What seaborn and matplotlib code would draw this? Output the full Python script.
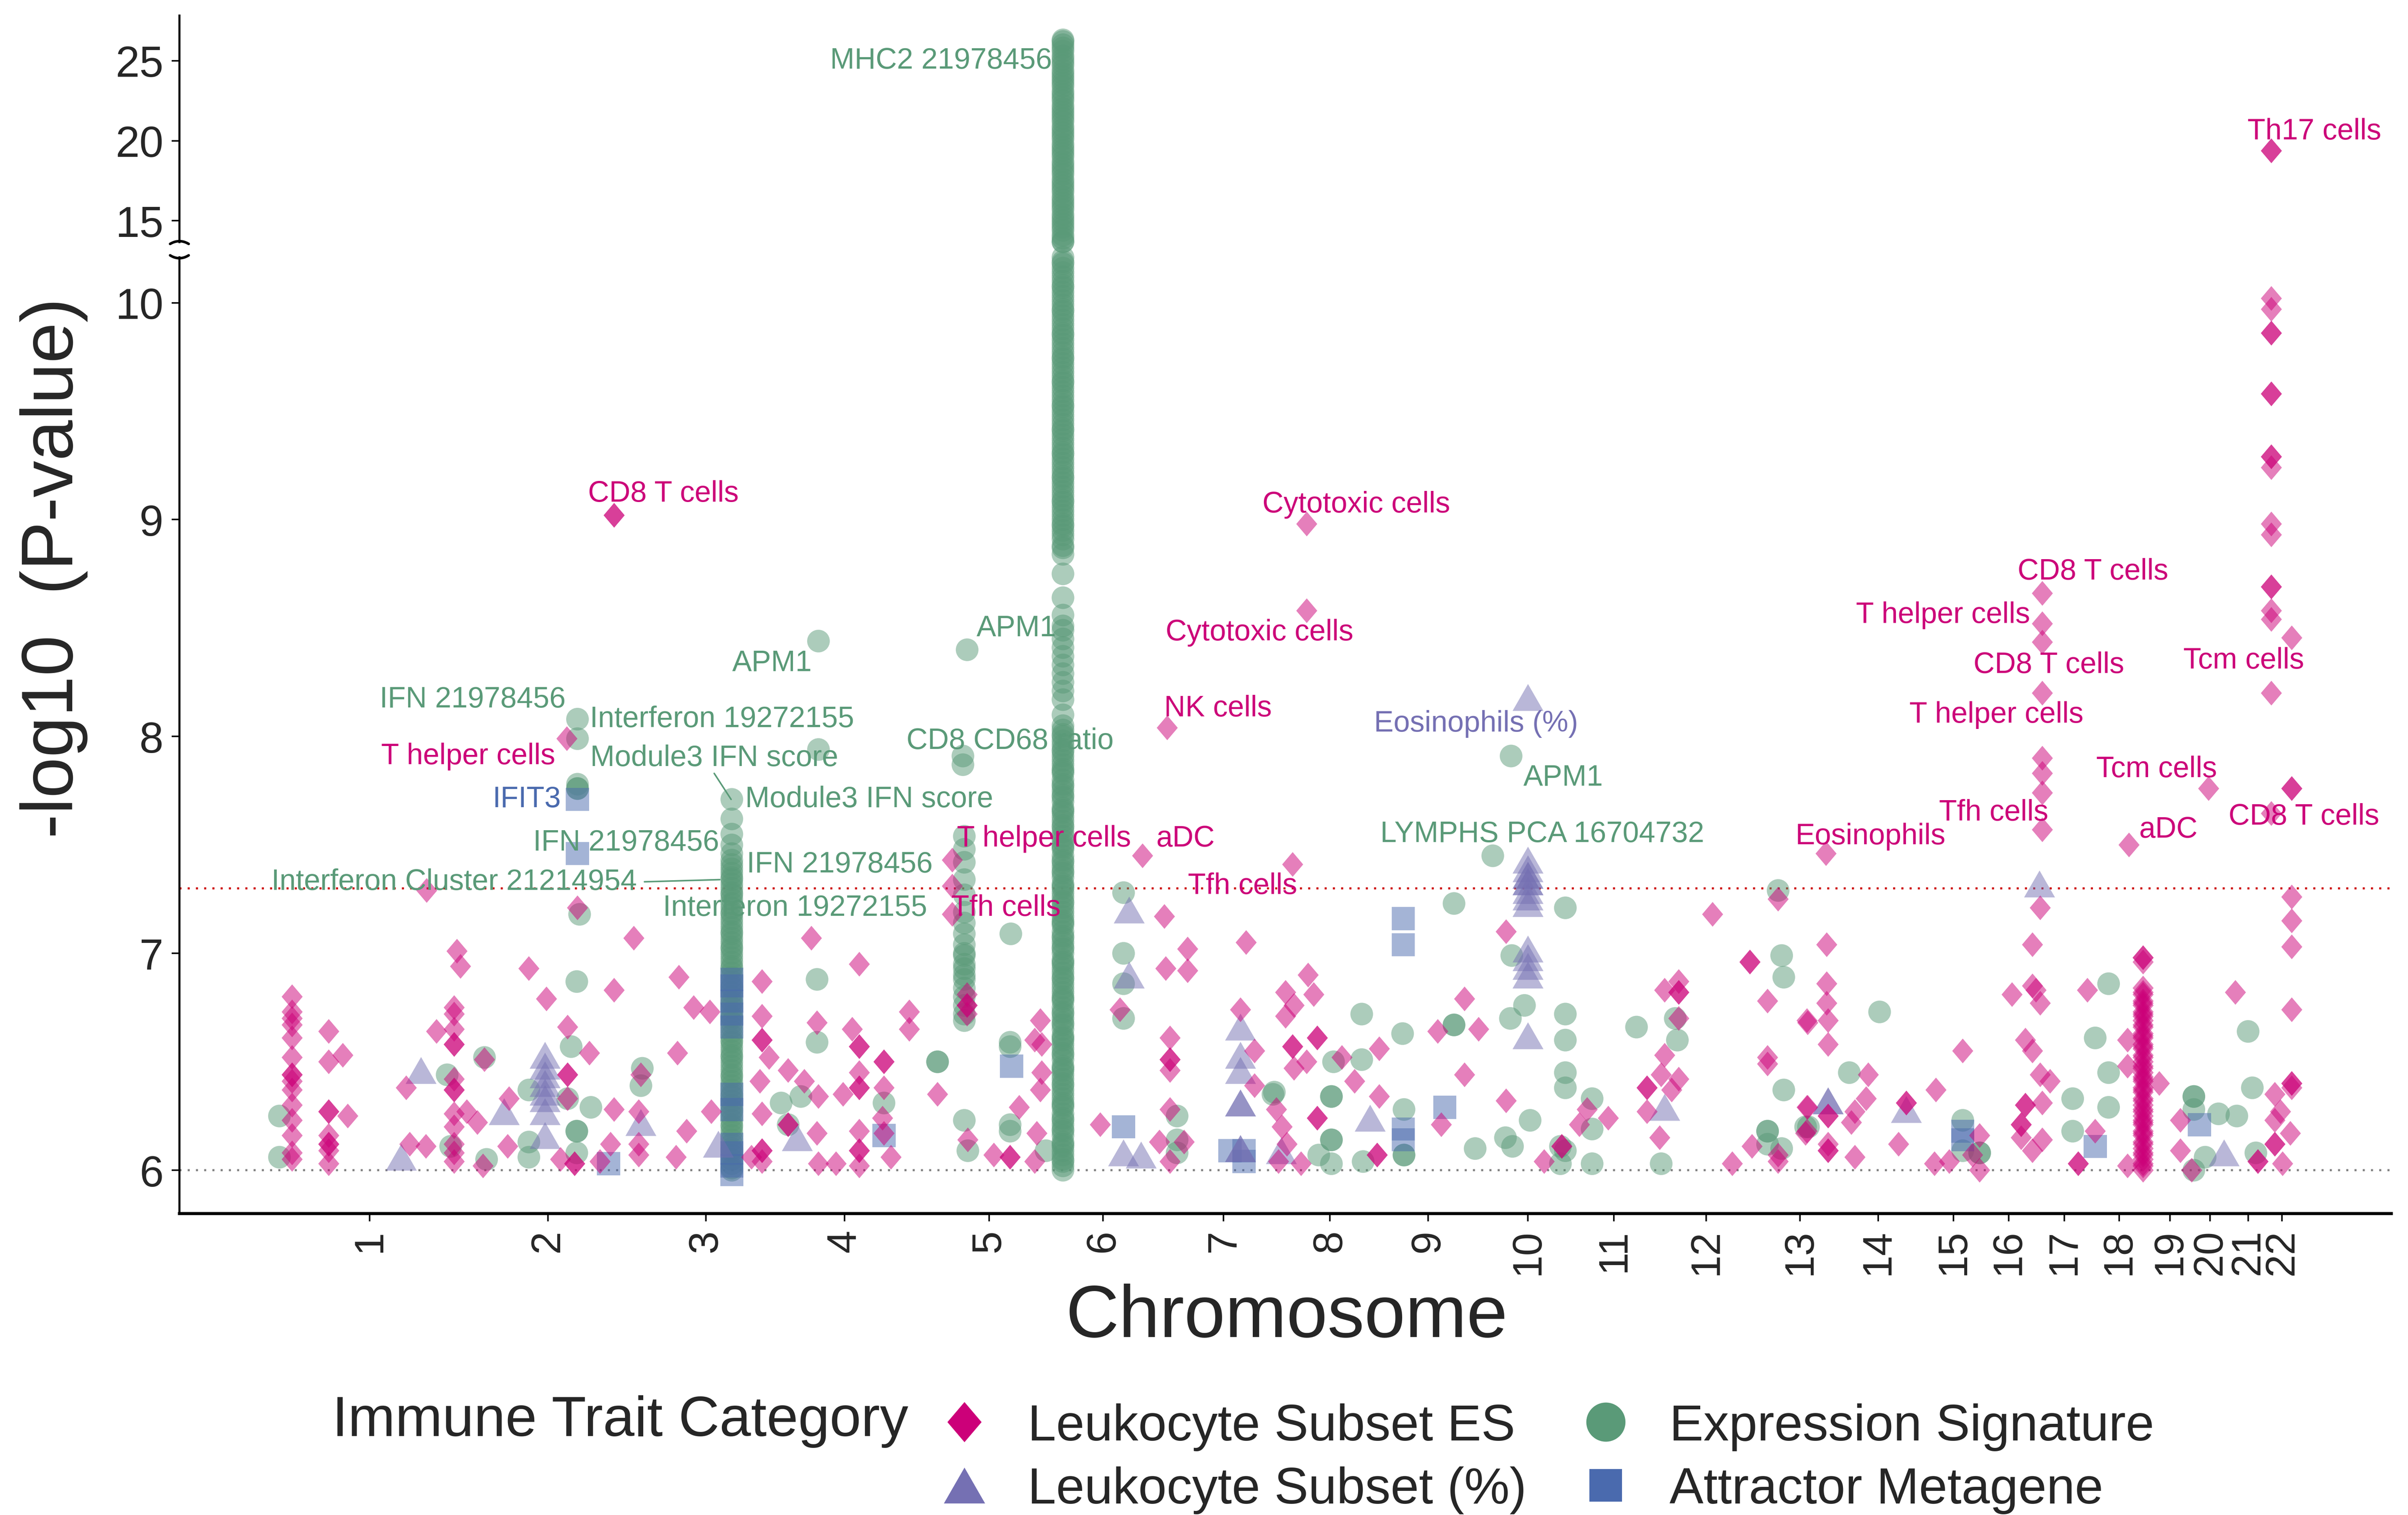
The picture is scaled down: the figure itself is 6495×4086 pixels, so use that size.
import numpy as np
import pandas as pd
import matplotlib
matplotlib.use("Agg")
import matplotlib.pyplot as plt
import seaborn as sns
from matplotlib.path import Path
from matplotlib.markers import MarkerStyle
from matplotlib.lines import Line2D

sns.set_style("white")
plt.rcParams["font.family"] = ["Liberation Sans", "DejaVu Sans"]

# ---------------------------------------------------------------- axis data
chrom_labels = [str(i) for i in range(1, 23)]
chrom_centers = [270, 523, 747, 944, 1149, 1311, 1482, 1633, 1772, 1914, 2036,
                 2167, 2300, 2411, 2518, 2596, 2675, 2753, 2825, 2882, 2936, 2984]
genome_end = 3139
lower_ticks = [6, 7, 8, 9, 10]
upper_ticks = [15, 20, 25]
suggestive_line = 6.0
genomewide_line = 7.3
lower_range = (5.8, 10.21)
upper_range = (13.67, 27.82)

categories = ["Leukocyte Subset ES", "Leukocyte Subset (%)",
              "Expression Signature", "Attractor Metagene"]

# ---------------------------------------------------------------- SNP hits
# (cumulative position, -log10 p) for each immune trait category

# Leukocyte Subset ES
les_points = [
    (617, 9.02), (617, 9.02), (550, 7.99), (351, 7.29), (565, 7.21),
    (1097, 7.43), (1097, 7.31), (1097, 7.18), (1118, 6.81), (1118, 6.76),
    (1118, 6.76), (1118, 6.72), (1367, 7.45), (1402, 8.04), (1398, 7.17),
    (1580, 7.41), (1600, 8.98), (1600, 8.58), (2337, 7.46),
    (2644, 8.66), (2644, 8.52), (2644, 8.435), (2644, 8.20), (2644, 7.90),
    (2644, 7.83), (2644, 7.74), (2644, 7.57), (2641, 7.21), (2630, 7.04),
    (2998, 8.455), (2998, 7.76), (2998, 7.76), (2880, 7.76), (2767, 7.50),
    (2998, 7.26), (2998, 7.15), (2998, 7.03), (2998, 6.74), (2998, 6.40),
    (2998, 6.40), (2998, 6.38), (2996, 6.17), (2974, 6.35), (2982, 6.27),
    (2974, 6.23), (2974, 6.12), (2974, 6.12), (2950, 6.04), (2950, 6.04),
    (2985, 6.03), (2856, 6.00),
    # chromosomes 1-3
    (645, 7.07), (394, 7.01), (399, 6.94), (496, 6.93), (617, 6.83),
    (521, 6.79), (709, 6.89), (730, 6.75), (753, 6.73),
    (160, 6.80), (160, 6.73), (160, 6.70), (160, 6.67), (160, 6.61),
    (160, 6.52), (160, 6.44), (160, 6.44), (160, 6.41), (160, 6.37),
    (160, 6.30), (160, 6.23), (160, 6.16), (160, 6.08), (160, 6.05),
    (212, 6.64), (212, 6.50), (212, 6.27), (212, 6.27), (212, 6.16),
    (212, 6.12), (212, 6.12), (212, 6.09), (212, 6.03), (232, 6.53), (239, 6.25),
    (390, 6.75), (390, 6.72), (390, 6.65), (390, 6.58), (390, 6.58),
    (390, 6.42), (390, 6.37), (390, 6.37), (390, 6.26), (390, 6.20),
    (390, 6.12), (390, 6.08), (390, 6.04),
    (365, 6.64), (322, 6.38), (350, 6.11), (327, 6.12), (423, 6.22),
    (408, 6.27), (433, 6.51), (551, 6.66), (551, 6.44), (551, 6.44),
    (582, 6.54), (551, 6.33), (466, 6.11), (468, 6.33), (617, 6.28),
    (597, 6.04), (541, 6.05), (561, 6.03), (561, 6.03), (612, 6.12),
    (652, 6.27), (652, 6.12), (652, 6.07), (655, 6.44), (707, 6.54),
    (720, 6.18), (705, 6.06), (755, 6.27), (431, 6.02),
    # chromosomes 3-7
    (897, 7.07), (965, 6.95), (827, 6.87), (827, 6.71), (905, 6.68),
    (955, 6.65), (827, 6.60), (827, 6.60), (965, 6.57), (965, 6.57),
    (837, 6.52), (1000, 6.50), (1000, 6.50), (864, 6.46), (965, 6.45),
    (824, 6.41), (887, 6.41), (965, 6.38), (965, 6.38), (1000, 6.38),
    (907, 6.34), (942, 6.35), (1036, 6.73), (1036, 6.65), (1076, 6.35),
    (864, 6.21), (864, 6.21), (827, 6.26), (905, 6.17), (965, 6.18),
    (998, 6.24), (1000, 6.17), (827, 6.09), (827, 6.09), (827, 6.04),
    (965, 6.09), (965, 6.09), (1010, 6.06), (907, 6.03), (932, 6.03),
    (965, 6.02), (812, 6.06), (1222, 6.69), (1224, 6.58), (1214, 6.60),
    (1224, 6.45), (1222, 6.37), (1192, 6.29), (1217, 6.17), (1119, 6.14),
    (1156, 6.07), (1179, 6.06), (1179, 6.06), (1214, 6.04),
    (1431, 7.02), (1400, 6.93), (1431, 6.92), (1514, 7.05), (1335, 6.74),
    (1406, 6.61), (1406, 6.51), (1406, 6.51), (1406, 6.46), (1506, 6.74),
    (1526, 6.55), (1307, 6.21), (1391, 6.13), (1426, 6.13), (1406, 6.04),
    (1406, 6.28), (1526, 6.39),
    # chromosomes 8-13
    (1602, 6.90), (1570, 6.82), (1610, 6.81), (1582, 6.76), (1570, 6.71),
    (1615, 6.61), (1615, 6.61), (1580, 6.57), (1580, 6.57), (1600, 6.50),
    (1582, 6.47), (1650, 6.52), (1703, 6.56), (1668, 6.41), (1703, 6.34),
    (1615, 6.24), (1615, 6.24), (1557, 6.28), (1565, 6.20), (1572, 6.12),
    (1560, 6.04), (1592, 6.03), (1700, 6.07), (1700, 6.07), (1824, 6.79),
    (1824, 6.44), (1786, 6.64), (1844, 6.65), (1791, 6.21), (1883, 7.10),
    (1883, 6.32), (1937, 6.04), (1962, 6.11), (1962, 6.11), (1998, 6.28),
    (2028, 6.24), (1987, 6.21), (2176, 7.18), (2128, 6.87), (2128, 6.82),
    (2128, 6.82), (2108, 6.83), (2128, 6.70), (2108, 6.53), (2103, 6.44),
    (2083, 6.38), (2083, 6.38), (2128, 6.42), (2118, 6.37), (2083, 6.27),
    (2101, 6.15), (2229, 6.96), (2229, 6.96), (2254, 6.78), (2254, 6.52),
    (2254, 6.49), (2310, 6.69), (2310, 6.29), (2310, 6.18), (2269, 7.25),
    (2232, 6.11), (2204, 6.03), (2269, 6.04), (2269, 6.07),
    # chromosomes 13-21
    (2338, 7.04), (2338, 6.86), (2338, 6.77), (2340, 6.69), (2311, 6.68),
    (2340, 6.58), (2397, 6.44), (2394, 6.33), (2378, 6.27), (2373, 6.22),
    (2340, 6.25), (2340, 6.25), (2340, 6.12), (2340, 6.09), (2340, 6.09),
    (2311, 6.29), (2308, 6.17), (2378, 6.06), (2451, 6.31), (2451, 6.31),
    (2440, 6.12), (2493, 6.37), (2531, 6.55), (2491, 6.03), (2512, 6.04),
    (2555, 6.16), (2555, 6.00), (2545, 6.07), (2601, 6.81), (2630, 6.85),
    (2635, 6.83), (2641, 6.77), (2620, 6.60), (2630, 6.55), (2641, 6.44),
    (2655, 6.41), (2620, 6.30), (2620, 6.30), (2644, 6.31), (2614, 6.21),
    (2614, 6.21), (2614, 6.15), (2644, 6.14), (2630, 6.09), (2695, 6.03),
    (2695, 6.03), (2708, 6.83), (2719, 6.18), (2765, 6.60), (2765, 6.48),
    (2765, 6.02), (2810, 6.40), (2918, 6.82), (2840, 6.23), (2840, 6.09),
]

# Leukocyte Subset ES: chromosome 18 and chromosome 22 peaks
chr18_pos = 2787
chr18_logp = [6.98, 6.98, 6.96, 6.84, 6.81, 6.78, 6.76, 6.73, 6.71, 6.69,
              6.66, 6.63, 6.61, 6.58, 6.56, 6.53, 6.50, 6.48, 6.45, 6.43,
              6.41, 6.38, 6.36, 6.33, 6.30, 6.28, 6.25, 6.23, 6.21, 6.18,
              6.16, 6.13, 6.10, 6.08, 6.05, 6.03, 6.00,
              6.02, 6.07, 6.12, 6.17, 6.22, 6.27, 6.32, 6.37, 6.42, 6.47,
              6.52, 6.57, 6.62, 6.67, 6.72, 6.77, 6.82]
chr22_pos = 2969
chr22_logp = [19.37, 19.37, 10.02, 9.97, 9.86, 9.86, 9.58, 9.58, 9.29, 9.29,
              9.24, 8.98, 8.93, 8.69, 8.69, 8.58, 8.54, 8.20, 7.645]

# Expression Signature
exp_points = [
    (565, 8.08), (565, 7.99), (565, 7.78), (565, 7.76), (565, 7.76), (568, 7.18),
    (907, 8.44), (907, 7.94), (1118, 8.40), (1112, 7.91), (1112, 7.87),
    (1180, 7.09), (1890, 7.91), (1864, 7.45),
    (142, 6.25), (142, 6.06), (380, 6.44), (433, 6.52), (385, 6.11),
    (496, 6.37), (556, 6.57), (551, 6.33), (584, 6.29), (564, 6.18),
    (564, 6.18), (496, 6.13), (496, 6.06), (564, 6.08), (436, 6.05),
    (657, 6.47), (655, 6.39), (564, 6.87),
    (905, 6.88), (905, 6.59), (1076, 6.50), (1076, 6.50), (854, 6.31),
    (882, 6.34), (1000, 6.31), (864, 6.21), (1114, 6.23), (1179, 6.59),
    (1179, 6.57), (1179, 6.21), (1179, 6.18), (1119, 6.09), (1230, 6.09),
    (1340, 7.28), (1340, 7.00), (1340, 6.86), (1340, 6.70), (1416, 6.25),
    (1416, 6.14), (1416, 6.08), (1552, 6.35),
    (1809, 7.23), (1967, 7.21), (1891, 6.99), (1909, 6.76), (1889, 6.70),
    (1967, 6.72), (1967, 6.60), (1967, 6.45), (1967, 6.38), (2005, 6.33),
    (2005, 6.19), (1967, 6.09), (2005, 6.03), (2068, 6.66), (2123, 6.70),
    (2126, 6.60), (2269, 7.29), (2274, 6.99), (2277, 6.89), (2277, 6.37),
    (2254, 6.18), (2254, 6.18), (2254, 6.12), (2274, 6.10), (2103, 6.03),
    (2312, 6.20), (1678, 6.72), (1678, 6.51), (1736, 6.63), (1809, 6.67),
    (1809, 6.67), (1638, 6.50), (1635, 6.34), (1635, 6.34), (1635, 6.14),
    (1635, 6.14), (1635, 6.03), (1617, 6.07), (1680, 6.04), (1554, 6.36),
    (1738, 6.28), (1738, 6.07), (1738, 6.07), (1839, 6.10), (1882, 6.15),
    (1892, 6.11), (1917, 6.23), (1960, 6.11), (1960, 6.03),
    (2413, 6.73), (2370, 6.45), (2308, 6.20), (2531, 6.23), (2531, 6.09),
    (2555, 6.08), (2555, 6.08), (2738, 6.86), (2719, 6.61), (2738, 6.45),
    (2687, 6.33), (2738, 6.29), (2687, 6.18), (2859, 6.34), (2859, 6.34),
    (2859, 6.28), (2894, 6.26), (2920, 6.25), (2936, 6.64), (2942, 6.38),
    (2875, 6.06), (2947, 6.08), (2859, 6.00),
]

# Expression Signature: chromosome 5 cluster
chr5_pos = 1114
chr5_logp = [7.54, 7.48, 7.42, 7.34, 7.27, 7.19, 7.14, 7.09, 7.04, 7.00,
             6.99, 6.95, 6.93, 6.90, 6.88, 6.84, 6.80, 6.76, 6.72, 6.69]

# Expression Signature: chromosome 3 interferon peak
chr3_pos = 784
chr3_logp = [6.00, 6.03, 6.07, 6.10, 6.14, 6.18, 6.21, 6.25, 6.28, 6.32,
             6.35, 6.39, 6.43, 6.46, 6.50, 6.53, 6.57, 6.60, 6.64, 6.68,
             6.71, 6.75, 6.78, 6.82, 6.85, 6.89, 6.93, 6.96, 7.00, 7.03,
             7.07, 7.10, 7.14, 7.18, 7.21, 7.25, 7.28, 7.32, 7.35, 7.39,
             7.43, 7.46, 7.50, 7.55, 7.62, 7.71,
             6.01, 6.05, 6.09, 6.12, 6.16, 6.20, 6.23, 6.27, 6.30, 6.34,
             6.37, 6.41, 6.44, 6.48, 6.52, 6.55, 6.59, 6.62, 6.66, 6.70,
             6.73, 6.77, 6.80, 6.84, 6.87, 6.91, 6.94, 6.98, 7.02, 7.05,
             7.09, 7.12, 7.16, 7.19, 7.23, 7.27, 7.30, 7.34, 7.37, 7.41]

# Expression Signature: chromosome 6 MHC peak
mhc_pos = 1254
mhc_logp = [6.00, 6.04, 6.07, 6.11, 6.13, 6.18, 6.21, 6.24, 6.29, 6.31,
            6.35, 6.39, 6.42, 6.46, 6.48, 6.53, 6.56, 6.60, 6.62, 6.67,
            6.70, 6.73, 6.78, 6.80, 6.84, 6.88, 6.91, 6.95, 6.97, 7.02,
            7.05, 7.08, 7.13, 7.15, 7.19, 7.23, 7.26, 7.30, 7.32, 7.37,
            7.40, 7.43, 7.48, 7.50, 7.54, 7.58, 7.61, 7.65, 7.67, 7.72,
            7.75, 7.78, 7.83, 7.85, 7.89, 7.93, 7.96, 8.00, 8.03,
            8.10, 8.17, 8.21, 8.25, 8.29, 8.33, 8.37, 8.41, 8.45, 8.49,
            8.51, 8.56, 8.64, 8.75,
            8.84, 8.87, 8.91, 8.95, 8.98, 9.02, 9.06, 9.09, 9.13, 9.17,
            9.20, 9.24, 9.28, 9.31, 9.35, 9.39, 9.42, 9.46, 9.50, 9.53,
            9.57, 9.61, 9.64, 9.68, 9.72, 9.75, 9.79, 9.83, 9.86, 9.90,
            9.94, 9.97, 10.01, 10.05, 10.08, 10.12, 10.16, 10.19,
            13.7, 14.1, 14.6, 15.0, 15.4, 15.9, 16.3, 16.8, 17.2, 17.6,
            18.1, 18.5, 19.0, 19.4, 19.8, 20.3, 20.7, 21.2, 21.6, 22.0,
            22.5, 22.9, 23.4, 23.8, 24.2, 24.7, 25.1, 25.6, 26.0, 26.3,
            6.02, 6.05, 6.09, 6.12, 6.16, 6.19, 6.23, 6.26, 6.30, 6.33,
            6.37, 6.40, 6.44, 6.47, 6.51, 6.54, 6.58, 6.61, 6.65, 6.68,
            6.72, 6.75, 6.79, 6.82, 6.86, 6.89, 6.93, 6.96, 7.00, 7.03,
            7.07, 7.10, 7.14, 7.17, 7.21, 7.24, 7.28, 7.31, 7.35, 7.38,
            7.42, 7.45, 7.49, 7.52, 7.56, 7.59, 7.63, 7.66, 7.70, 7.73,
            7.77, 7.80, 7.84, 7.87, 7.91, 7.94, 7.98, 8.01, 8.05,
            8.88, 8.93, 8.97, 9.00, 9.04, 9.08, 9.11, 9.15, 9.19, 9.22,
            9.26, 9.30, 9.33, 9.37, 9.41, 9.44, 9.48, 9.52, 9.55, 9.59,
            9.63, 9.66, 9.70, 9.74, 9.77, 9.81, 9.85, 9.88, 9.92, 9.96,
            9.99, 10.03, 10.07, 10.10, 10.14, 10.18, 10.21,
            13.68, 13.9, 14.4, 14.8, 15.2, 15.7, 16.1, 16.5, 17.0, 17.4,
            17.9, 18.3, 18.7, 19.2, 19.6, 20.1, 20.5, 20.9, 21.4, 21.8,
            22.2, 22.7, 23.1, 23.6, 24.0, 24.4, 24.9, 25.3, 25.8, 26.2]

# Leukocyte Subset (%)
pct_points = [
    (1914, 8.18), (1914, 7.43), (1914, 7.39), (1914, 7.36), (1914, 7.36),
    (1914, 7.33), (1914, 7.33), (1914, 7.29), (1914, 7.26), (1914, 7.23),
    (1914, 7.02), (1914, 6.98), (1914, 6.94), (1914, 6.90), (1914, 6.62),
    (343, 6.46), (315, 6.06), (519, 6.53), (519, 6.48), (519, 6.44),
    (519, 6.40), (519, 6.36), (519, 6.33), (519, 6.27), (519, 6.16),
    (461, 6.27), (655, 6.22), (765, 6.12), (877, 6.15), (1348, 7.20),
    (1348, 6.90), (1506, 6.66), (1506, 6.53), (1506, 6.46), (1506, 6.31),
    (1506, 6.31), (1506, 6.10), (1506, 6.10), (1340, 6.08), (1365, 6.07),
    (1690, 6.24), (2108, 6.29), (1564, 6.09), (2640, 7.32), (2340, 6.32),
    (2340, 6.32), (2451, 6.28), (2902, 6.08),
]

# Attractor Metagene
att_points = [
    (565, 7.71), (565, 7.46), (784, 6.88), (784, 6.85), (784, 6.78),
    (784, 6.72), (784, 6.66), (784, 6.35), (784, 6.28), (784, 6.12),
    (784, 6.08), (784, 6.02), (784, 5.98), (609, 6.03),
    (1000, 6.16), (1181, 6.48), (1340, 6.20), (1511, 6.09), (1511, 6.04),
    (1491, 6.09), (1737, 7.16), (1737, 7.04), (1796, 6.29), (1737, 6.19),
    (1737, 6.14), (2531, 6.18), (2531, 6.14), (2719, 6.11), (2867, 6.21),
]

# ---------------------------------------------------------------- labels
label_text = ["CD8 T cells", "IFN 21978456", "Interferon 19272155", "T helper cells",
              "Module3 IFN score", "IFIT3", "Module3 IFN score", "IFN 21978456",
              "IFN 21978456", "Interferon Cluster 21214954", "Interferon 19272155",
              "APM1", "APM1", "CD8 CD68 ratio", "T helper cells", "aDC", "Tfh cells",
              "Tfh cells", "NK cells", "MHC2 21978456", "Cytotoxic cells",
              "Cytotoxic cells", "Eosinophils (%)", "APM1", "LYMPHS PCA 16704732",
              "Eosinophils", "CD8 T cells", "T helper cells", "CD8 T cells",
              "T helper cells", "Tfh cells", "Tcm cells", "Tcm cells", "aDC",
              "CD8 T cells", "Th17 cells"]
label_cat = ["ES", "EXP", "EXP", "ES", "EXP", "ATT", "EXP", "EXP", "EXP", "EXP", "EXP",
             "EXP", "EXP", "EXP", "ES", "ES", "ES", "ES", "ES", "EXP", "ES", "ES",
             "PCT", "EXP", "EXP", "ES", "ES", "ES", "ES", "ES", "ES", "ES", "ES", "ES",
             "ES", "ES"]
label_pos = [687, 416, 770, 410, 759, 493, 979, 634, 937, 390, 874, 841, 1188, 1179,
             1227, 1428, 1173, 1509, 1474, 1081, 1670, 1533, 1840, 1964, 1934, 2400,
             2716, 2503, 2653, 2579, 2575, 2930, 2806, 2823, 3015, 3030]
label_logp = [9.12, 8.17, 8.08, 7.91, 7.90, 7.71, 7.71, 7.51, 7.41, 7.33, 7.21, 8.34,
              8.50, 7.98, 7.53, 7.53, 7.21, 7.31, 8.13, 25.0, 9.07, 8.48, 8.06, 7.81,
              7.55, 7.54, 8.76, 8.56, 8.33, 8.10, 7.65, 8.35, 7.85, 7.57, 7.63, 20.58]
# repel segments: label anchor -> point
segments = [((759, 7.83), (783, 7.71)), ((660, 7.33), (767, 7.34))]

# ---------------------------------------------------------------- styling
colors = {"Leukocyte Subset ES": "#CC0079", "Leukocyte Subset (%)": "#7570B3",
          "Expression Signature": "#5A9A78", "Attractor Metagene": "#4A6AAE"}
short_cat = {"ES": "Leukocyte Subset ES", "PCT": "Leukocyte Subset (%)",
             "EXP": "Expression Signature", "ATT": "Attractor Metagene"}

diamond = MarkerStyle(Path([(0, 1), (0.85, 0), (0, -1), (-0.85, 0), (0, 1)],
                           [Path.MOVETO, Path.LINETO, Path.LINETO, Path.LINETO,
                            Path.CLOSEPOLY]))
triangle = MarkerStyle(Path([(0, 0.87), (1, -0.87), (-1, -0.87), (0, 0.87)],
                            [Path.MOVETO, Path.LINETO, Path.LINETO, Path.CLOSEPOLY]))
markers = {"Leukocyte Subset ES": diamond, "Leukocyte Subset (%)": triangle,
           "Expression Signature": "o", "Attractor Metagene": "s"}
sizes = {"Leukocyte Subset ES": 48 ** 2, "Leukocyte Subset (%)": 60 ** 2,
         "Expression Signature": 44 ** 2, "Attractor Metagene": 45 ** 2}

# ---------------------------------------------------------------- table
rows = []
for p, v in les_points:
    rows.append((p, v, "Leukocyte Subset ES"))
for v in chr18_logp:
    rows.append((chr18_pos, v, "Leukocyte Subset ES"))
for v in chr22_logp:
    rows.append((chr22_pos, v, "Leukocyte Subset ES"))
for p, v in exp_points:
    rows.append((p, v, "Expression Signature"))
for v in chr5_logp:
    rows.append((chr5_pos, v, "Expression Signature"))
for v in chr3_logp:
    rows.append((chr3_pos, v, "Expression Signature"))
for v in mhc_logp:
    rows.append((mhc_pos, v, "Expression Signature"))
for p, v in pct_points:
    rows.append((p, v, "Leukocyte Subset (%)"))
for p, v in att_points:
    rows.append((p, v, "Attractor Metagene"))
df = pd.DataFrame(rows, columns=["pos", "logp", "category"])

# ---------------------------------------------------------------- figure
fig = plt.figure(figsize=(64.95, 40.87), dpi=100)
ax_lo = fig.add_axes([0.0745, 0.1989, 0.9185, 0.6311])
ax_hi = fig.add_axes([0.0745, 0.8400, 0.9185, 0.1495], sharex=ax_lo)

draw_order = ["Expression Signature", "Attractor Metagene",
              "Leukocyte Subset (%)", "Leukocyte Subset ES"]
for ax, (lo, hi) in ((ax_lo, lower_range), (ax_hi, upper_range)):
    panel = df[(df["logp"] >= lo) & (df["logp"] <= hi)]
    for cat in draw_order:
        sub = panel[panel["category"] == cat]
        sns.scatterplot(data=sub, x="pos", y="logp", ax=ax, marker=markers[cat],
                        s=sizes[cat], color=colors[cat], alpha=0.5,
                        linewidth=0, edgecolor="none", legend=False,
                        clip_on=False)
    ax.set_xlabel("")
    ax.set_ylabel("")
    for side in ("top", "right"):
        ax.spines[side].set_visible(False)
    ax.spines["left"].set_linewidth(4)
    ax.spines["left"].set_color("black")
    ax.tick_params(axis="y", length=15, width=3, labelsize=84, pad=16,
                   color="black", left=True)

ax_lo.set_xlim(0, genome_end)
ax_lo.set_ylim(*lower_range)
ax_hi.set_ylim(*upper_range)
ax_lo.set_yticks(lower_ticks)
ax_hi.set_yticks(upper_ticks)
ax_hi.spines["bottom"].set_visible(False)
ax_hi.tick_params(axis="x", bottom=False, labelbottom=False)

ax_lo.spines["bottom"].set_linewidth(6)
ax_lo.spines["bottom"].set_color("black")
ax_lo.set_xticks(chrom_centers)
ax_lo.set_xticklabels(chrom_labels, rotation=90, va="top", ha="center")
ax_lo.tick_params(axis="x", length=15, width=3, labelsize=80, pad=15,
                  color="black", bottom=True)

# threshold lines
ax_lo.axhline(suggestive_line, color="#808080", lw=4, ls=(0, (1, 3)), zorder=0)
ax_lo.axhline(genomewide_line, color="#CC0000", lw=4, ls=(0, (1, 3)), zorder=0)

# axis break marks
t = np.linspace(-1, 1, 40)
ax_hi.plot(t * 0.0042, -0.012 * t ** 2 + 0.004, transform=ax_hi.transAxes,
           color="black", lw=5, clip_on=False, solid_capstyle="round", zorder=6)
ax_lo.plot(t * 0.0042, 1 + 0.003 * t ** 2 - 0.001, transform=ax_lo.transAxes,
           color="black", lw=5, clip_on=False, solid_capstyle="round", zorder=6)

# labels
for txt, c, p, v in zip(label_text, label_cat, label_pos, label_logp):
    ax = ax_hi if v > 12 else ax_lo
    ax.text(p, v, txt, color=colors[short_cat[c]], fontsize=57,
            ha="center", va="center", clip_on=False, zorder=5)
for (x0, y0), (x1, y1) in segments:
    ax_lo.plot([x0, x1], [y0, y1], color=colors["Expression Signature"], lw=3,
               zorder=5)

# axis titles
fig.text(0.0223, 0.625, "-log10  (P-value)", rotation=90, fontsize=142,
         ha="center", va="center")
fig.text(0.5344, 0.1304, "Chromosome", fontsize=143, ha="center", va="center")

# legend
fig.text(0.2576, 0.0618, "Immune Trait Category", fontsize=110,
         ha="center", va="center")
legend_ms = {"Leukocyte Subset ES": 78, "Leukocyte Subset (%)": 80,
             "Expression Signature": 76, "Attractor Metagene": 64}
handles = [Line2D([], [], marker=markers[c], color=colors[c], linestyle="",
                  markersize=legend_ms[c], markeredgewidth=0)
           for c in categories]
fig.legend(handles=handles, labels=categories, ncol=2, loc="upper left",
           bbox_to_anchor=(0.3898, 0.0740), frameon=False, fontsize=99,
           handlelength=1.0, handletextpad=0.75, columnspacing=1.05,
           labelspacing=0.30, borderpad=0, borderaxespad=0)

fig.savefig("out.png", dpi=100)
